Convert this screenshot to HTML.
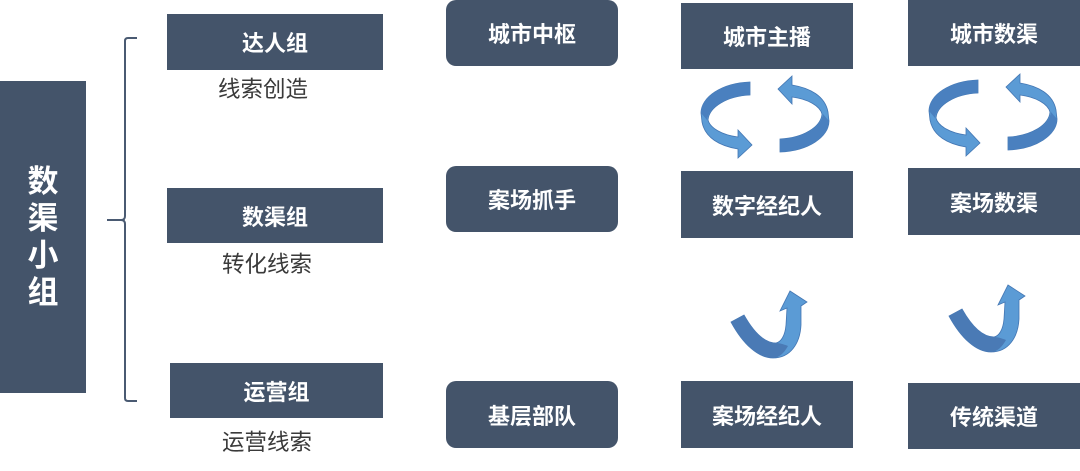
<!DOCTYPE html>
<html>
<head>
<meta charset="utf-8">
<style>
html,body{margin:0;padding:0;}
body{width:1080px;height:471px;position:relative;overflow:hidden;background:#fff;
font-family:"Liberation Sans","Noto Sans CJK SC",sans-serif;}
.b{position:absolute;background:#44546a;color:#fff;font-weight:bold;font-size:22px;
display:flex;align-items:center;justify-content:center;box-sizing:border-box;
font-family:"Liberation Sans","Noto Sans CJK SC",sans-serif;letter-spacing:0px;}
.r{border-radius:10px;}
.t{position:absolute;color:#3a3a3a;font-size:22.5px;line-height:24px;white-space:nowrap;
font-family:"Liberation Sans","Noto Sans CJK SC",sans-serif;}
.big{position:absolute;left:0;top:81px;width:86px;height:312px;background:#44546a;color:#fff;
font-weight:bold;font-size:31px;line-height:37px;display:flex;align-items:center;justify-content:center;
text-align:center;font-family:"Liberation Sans","Noto Sans CJK SC",sans-serif;}
svg{position:absolute;left:0;top:0;}
</style>
</head>
<body>
<div class="big"><div>数<br>渠<br>小<br>组</div></div>

<div class="b" style="left:167px;top:14px;width:216px;height:56px;">达人组</div>
<div class="t" style="left:218px;top:78px;">线索创造</div>
<div class="b" style="left:167px;top:188px;width:216px;height:55px;">数渠组</div>
<div class="t" style="left:222px;top:253px;">转化线索</div>
<div class="b" style="left:170px;top:363px;width:213px;height:55px;">运营组</div>
<div class="t" style="left:222px;top:431px;">运营线索</div>

<div class="b r" style="left:446px;top:0px;width:172px;height:66px;">城市中枢</div>
<div class="b r" style="left:446px;top:166px;width:172px;height:66px;">案场抓手</div>
<div class="b r" style="left:446px;top:381px;width:172px;height:67px;">基层部队</div>

<div class="b" style="left:681px;top:3px;width:172px;height:66px;">城市主播</div>
<div class="b" style="left:681px;top:171px;width:172px;height:67px;">数字经纪人</div>
<div class="b" style="left:681px;top:381px;width:172px;height:67px;">案场经纪人</div>

<div class="b" style="left:908px;top:0px;width:172px;height:66px;">城市数渠</div>
<div class="b" style="left:908px;top:168px;width:172px;height:67px;">案场数渠</div>
<div class="b" style="left:908px;top:383px;width:172px;height:66px;">传统渠道</div>

<svg width="1080" height="471" viewBox="0 0 1080 471">
  <defs>
    <g id="circ">
      <path d="M750,82 C722,83 701,97 701,113 L702,122 C705,138 720,146 738,149 L738,158 L752,145 L738,130 L738,137 C722,135 710,128 708,120 C709,107 727,96 750,95 Z" fill="#5b9bd5" stroke="#4376b3" stroke-width="0.8"/>
      <path d="M750,82 C722,83 701,97 701,113 L707,120 C709,106 727,96 750,95 Z" fill="#4a80bf"/>
    </g>
    <g id="up">
      <path d="M731,322 C743,344 758,358 773,358 C790,358 800,344 801,325 L801,306 L807,302 L790,291 L780,311 L787,308 L786,325 C785,336 781,342 776,343 C764,343 753,331 744,315 Z" fill="#5b9bd5" stroke="#4376b3" stroke-width="0.8"/>
      <path d="M731,322 C743,344 758,358 773,358 C779,358 784,353 788,346 C783,344 779,343 776,343 C764,343 753,331 744,315 Z" fill="#4a7ab5"/>
    </g>
  </defs>
  <!-- brace -->
  <path d="M137,38 L128,38 Q125,38 125,41 L125,216 Q125,220 121,220 L107,220 M121,220 Q125,220 125,224 L125,398 Q125,401 128,401 L137,401" fill="none" stroke="#4a5a72" stroke-width="2"/>
  <!-- circular arrows -->
  <use href="#circ"/>
  <use href="#circ" transform="rotate(180 765 117)"/>
  <use href="#circ" transform="translate(228 -2)"/>
  <use href="#circ" transform="translate(228 -2) rotate(180 765 117)"/>
  <!-- up arrows -->
  <use href="#up"/>
  <use href="#up" transform="translate(218 -6)"/>
</svg>
</body>
</html>
